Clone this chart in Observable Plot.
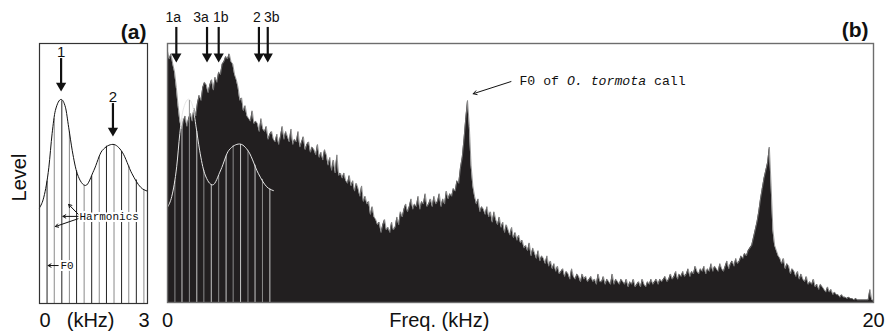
<!DOCTYPE html>
<html><head><meta charset="utf-8">
<script src="https://cdn.jsdelivr.net/npm/d3@7"></script>
<script src="https://cdn.jsdelivr.net/npm/@observablehq/plot@0.6"></script>
<style>
html,body{margin:0;padding:0;background:#fff;}
#wrap{display:flex;width:885px;height:332px;overflow:hidden;}
#wrap svg{display:block;flex:none;}
</style></head><body><div id="wrap"></div>
<script>
// ---------- data ----------
// Formant envelope (kHz, relative level 0-100)
const envelopeFreq  = [0, 0.12, 0.26, 0.35, 0.44, 0.6, 0.72, 0.81, 0.91, 1.05, 1.28, 1.51, 1.74, 2.04, 2.3, 2.57, 2.81, 3.0];
const envelopeLevel = [36.8, 40.9, 52.4, 65.3, 74.2, 78.5, 75.5, 67.8, 58.8, 49.9, 45.4, 51.2, 58.8, 61.2, 58.2, 49.9, 44.7, 43.2];
// Harmonics (kHz) and their level on the envelope
const harmonicFreq  = [0.21, 0.41, 0.62, 0.83, 1.03, 1.24, 1.45, 1.66, 1.86, 2.07, 2.28, 2.48, 2.69, 2.90];
const harmonicLevel = [47, 71, 78, 66, 51, 45.5, 49, 56.5, 60.5, 61, 58.5, 53, 47.5, 43.8];
// Formant peaks in (a)
const formantLabel = ["1", "2"];
const formantFreq  = [0.6, 2.04];
const formantLevel = [78.5, 61.2];
// Markers at top of (b)
const markerLabel = ["1a", "3a", "1b", "2", "3b"];
const markerFreq  = [0.25, 1.12, 1.45, 2.59, 2.84];
// O. tormota F0 peak
const callPeakFreq = 8.5, callPeakLevel = 78;
// Noise spectrum, 0–20 kHz in 0.05 kHz steps
const spectrumStep = 0.05;
const spectrumLevel = [
  97, 94, 96, 92, 89, 83, 76, 70, 67, 70, 72, 68, 71, 73, 70, 75, 72, 77, 80, 78,
  83, 85, 84, 81, 84, 86, 82, 87, 85, 89, 88, 92, 93, 95, 94, 96, 93, 92, 88, 86,
  83, 78, 79, 74, 76, 72, 71, 70, 74, 69, 70, 69, 66, 71, 67, 66, 68, 63, 65, 66,
  63, 62, 65, 61, 64, 68, 63, 66, 64, 62, 67, 61, 63, 62, 66, 60, 62, 64, 59, 61,
  62, 58, 60, 59, 57, 61, 56, 58, 55, 59, 57, 53, 56, 51, 55, 50, 57, 49, 50, 48,
  50, 47, 46, 49, 45, 47, 43, 46, 44, 41, 45, 39, 41, 38, 39, 34, 37, 33, 32, 30,
  31, 27, 30, 32, 28, 29, 27, 31, 28, 29, 33, 30, 35, 33, 36, 38, 35, 37, 40, 36,
  38, 37, 41, 36, 39, 38, 42, 37, 38, 40, 37, 41, 38, 39, 42, 37, 40, 38, 43, 40,
  42, 41, 44, 43, 47, 46, 52, 56, 63, 71, 78, 68, 53, 45, 41, 38, 40, 35, 37, 36,
  34, 37, 33, 35, 31, 35, 32, 30, 33, 29, 31, 27, 30, 28, 26, 29, 25, 27, 24, 26,
  23, 24, 21, 22, 20, 23, 18, 21, 19, 17, 20, 16, 18, 17, 15, 18, 14, 16, 13, 15,
  12, 14, 11, 12, 13, 10, 12, 11, 9, 13, 10, 9, 11, 10, 8, 11, 9, 10, 8, 9,
  10, 8, 9, 7, 11, 8, 8, 10, 7, 9, 8, 7, 11, 7, 9, 8, 7, 9, 8, 7,
  9, 6, 8, 7, 9, 6, 7, 8, 6, 9, 7, 6, 8, 7, 9, 7, 8, 9, 7, 9,
  8, 9, 10, 8, 9, 11, 9, 10, 12, 9, 11, 10, 12, 10, 11, 13, 10, 12, 11, 14,
  12, 11, 13, 12, 14, 11, 13, 12, 15, 12, 14, 13, 12, 15, 13, 12, 14, 16, 13, 15,
  16, 14, 17, 15, 16, 18, 17, 19, 18, 20, 21, 22, 25, 28, 31, 35, 40, 44, 48, 51,
  54, 60, 45, 28, 22, 20, 18, 17, 15, 17, 13, 15, 14, 11, 13, 12, 10, 12, 9, 11,
  9, 8, 10, 7, 8, 7, 9, 6, 7, 5, 7, 6, 5, 4, 6, 4, 5, 3, 4, 3,
  3, 2, 3, 2, 2, 1.5, 2, 1.5, 1.5, 1, 1.5, 1, 1, 1, 1, 1, 1, 1, 5, 1,
  0.8
];

// ---------- tables ----------
const envelope = envelopeFreq.map((f, i) => ({f, v: envelopeLevel[i]}));
const harmonics = harmonicFreq.map((f, i) => ({f, v: harmonicLevel[i], i}));
const formants = formantLabel.map((label, i) => ({label, f: formantFreq[i], v: formantLevel[i]}));
const markers = markerLabel.map((label, i) => ({label, f: markerFreq[i]}));
const spectrum = spectrumLevel.map((v, i) => ({f: +(i * spectrumStep).toFixed(2), v}));

const SANS = "'Liberation Sans', Arial, Helvetica, sans-serif";
const MONO = "'Liberation Mono', 'Courier New', monospace";
const H = 332;

function downArrows(data, x, yTop, yTip, sw) {
  return [
    Plot.ruleX(data, {x, y1: yTop, y2: d => yTip(d) + 2, stroke: "#111", strokeWidth: sw}),
    Plot.dot(data, {x, y: yTip, symbol: "triangle", r: 3.8, rotate: 180, dy: -5.9, fill: "#111", stroke: "none"})
  ];
}
function haloText(label, x, y) {
  const o = {x, y, text: d => d, textAnchor: "start", fontFamily: MONO, fontSize: 11};
  return [
    Plot.text([label], {...o, fill: "white", stroke: "white", strokeWidth: 4}),
    Plot.text([label], {...o, fill: "#111"})
  ];
}

// ---------- panel (a) ----------
const panelA = Plot.plot({
  width: 160, height: H,
  marginLeft: 39, marginRight: 13, marginTop: 43, marginBottom: 29,
  x: {domain: [0, 3], axis: null},
  y: {domain: [0, 100], axis: null},
  style: {fontFamily: SANS, background: "white", overflow: "visible"},
  marks: [
    Plot.ruleX(harmonics.filter(d => d.i % 2 === 0), {x: "f", y1: 0, y2: "v", stroke: "#222", strokeWidth: 1}),
    Plot.ruleX(harmonics.filter(d => d.i % 2 === 1), {x: "f", y1: 0, y2: "v", stroke: "#8a8a8a", strokeWidth: 1}),
    Plot.line(envelope, {x: "f", y: "v", curve: "monotone-x", stroke: "#111", strokeWidth: 1}),
    Plot.frame({stroke: "#333", strokeWidth: 1.2}),
    ...downArrows(formants, "f", d => d.v + 15.7, d => d.v + 3, 2.2),
    Plot.text(formants, {x: "f", y: d => d.v + 18.2, text: "label", fontSize: 15, fill: "#111"}),
    // annotations
    ...haloText("Harmonics", 1.11, 33.5),
    Plot.arrow([[1.07, 34.4, 0.81, 38.1], [1.07, 33.5, 0.65, 33.5], [1.07, 32.6, 0.44, 29.6]],
      {x1: d => d[0], y1: d => d[1], x2: d => d[2], y2: d => d[3], stroke: "#111", strokeWidth: 1, headLength: 5}),
    ...haloText("F0", 0.58, 14.6),
    Plot.arrow([[0.52, 14.6, 0.24, 14.6]], {x1: d => d[0], y1: d => d[1], x2: d => d[2], y2: d => d[3], stroke: "#111", strokeWidth: 1, headLength: 5}),
    // axis text
    Plot.text(["0"], {x: 0, frameAnchor: "bottom", lineAnchor: "middle", dy: 17, text: d => d, textAnchor: "start", fontSize: 20, fill: "#111"}),
    Plot.text(["3"], {x: 3, frameAnchor: "bottom", lineAnchor: "middle", dy: 17, text: d => d, textAnchor: "end", dx: 2, fontSize: 20, fill: "#111"}),
    Plot.text(["(kHz)"], {x: 1.42, frameAnchor: "bottom", lineAnchor: "middle", dy: 17, text: d => d, fontSize: 20, fill: "#111"}),
    Plot.text(["Level"], {frameAnchor: "left", textAnchor: "middle", lineAnchor: "middle", dx: -19.5, dy: 4, rotate: -90, text: d => d, fontSize: 20, fill: "#111"}),
    Plot.text(["(a)"], {frameAnchor: "top-right", lineAnchor: "middle", dx: -1, dy: -11, textAnchor: "end", text: d => d, fontSize: 21, fontWeight: "bold", fill: "#111"})
  ]
});

// ---------- panel (b) ----------
const labelShiftPx = {"1a": -3, "3a": -6, "1b": 2, "2": -2, "3b": 4};
const pxPerKHz = (725 - 7 - 12) / 20;
const panelB = Plot.plot({
  width: 725, height: H,
  marginLeft: 7, marginRight: 12, marginTop: 43, marginBottom: 30,
  x: {domain: [0, 20], axis: null},
  y: {domain: [0, 100], axis: null},
  style: {fontFamily: SANS, background: "white", overflow: "visible"},
  marks: [
    Plot.areaY(spectrum, {x: "f", y: "v", fill: "#221f20", curve: "linear"}),
    Plot.line(spectrum, {x: "f", y: "v", stroke: "#808080", strokeWidth: 0.8}),
    Plot.ruleX(harmonics.filter(d => d.i % 2 === 0), {x: "f", y1: 0, y2: "v", stroke: "#8c8c8c", strokeWidth: 1}),
    Plot.ruleX(harmonics.filter(d => d.i % 2 === 1), {x: "f", y1: 0, y2: "v", stroke: "#c8c8c8", strokeWidth: 1}),
    Plot.line(envelope, {x: "f", y: "v", curve: "monotone-x", stroke: "#e6e6e6", strokeWidth: 1}),
    Plot.frame({stroke: "#6d6d6d", strokeWidth: 1.4}),
    ...downArrows(markers, "f", () => 106.2, () => 92.7, 2.2),
    Plot.text(markers, {x: d => d.f + labelShiftPx[d.label] / pxPerKHz, y: 110, text: "label", fontSize: 14, fill: "#111"}),
    // O. tormota annotation
    Plot.arrow([[callPeakFreq + 1.23, callPeakLevel + 7.3, callPeakFreq + 0.16, callPeakLevel + 2.6]],
      {x1: d => d[0], y1: d => d[1], x2: d => d[2], y2: d => d[3], stroke: "#111", strokeWidth: 1, headLength: 6}),
    Plot.text(["F0 of "], {x: callPeakFreq + 1.47, y: callPeakLevel + 7.7, text: d => d, textAnchor: "start", fontFamily: MONO, fontSize: 13.2, fill: "#111"}),
    Plot.text(["O. tormota"], {x: callPeakFreq + 1.47, y: callPeakLevel + 7.7, dx: 47.5, text: d => d, textAnchor: "start", fontFamily: MONO, fontStyle: "italic", fontSize: 13.2, fill: "#111"}),
    Plot.text(["call"], {x: callPeakFreq + 1.47, y: callPeakLevel + 7.7, dx: 134.6, text: d => d, textAnchor: "start", fontFamily: MONO, fontSize: 13.2, fill: "#111"}),
    // axis text
    Plot.text(["0"], {x: 0, frameAnchor: "bottom", lineAnchor: "middle", dy: 18, text: d => d, fontSize: 20, fill: "#111"}),
    Plot.text(["20"], {x: 20, frameAnchor: "bottom", lineAnchor: "middle", dy: 18, text: d => d, fontSize: 20, fill: "#111"}),
    Plot.text(["Freq. (kHz)"], {x: 7.7, frameAnchor: "bottom", lineAnchor: "middle", dy: 18, text: d => d, fontSize: 20, fill: "#111"}),
    Plot.text(["(b)"], {frameAnchor: "top-right", lineAnchor: "middle", dx: -5, dy: -13, textAnchor: "end", text: d => d, fontSize: 21, fontWeight: "bold", fill: "#111"})
  ]
});

const wrap = document.getElementById("wrap");
wrap.appendChild(panelA);
wrap.appendChild(panelB);
</script>
</body></html>
